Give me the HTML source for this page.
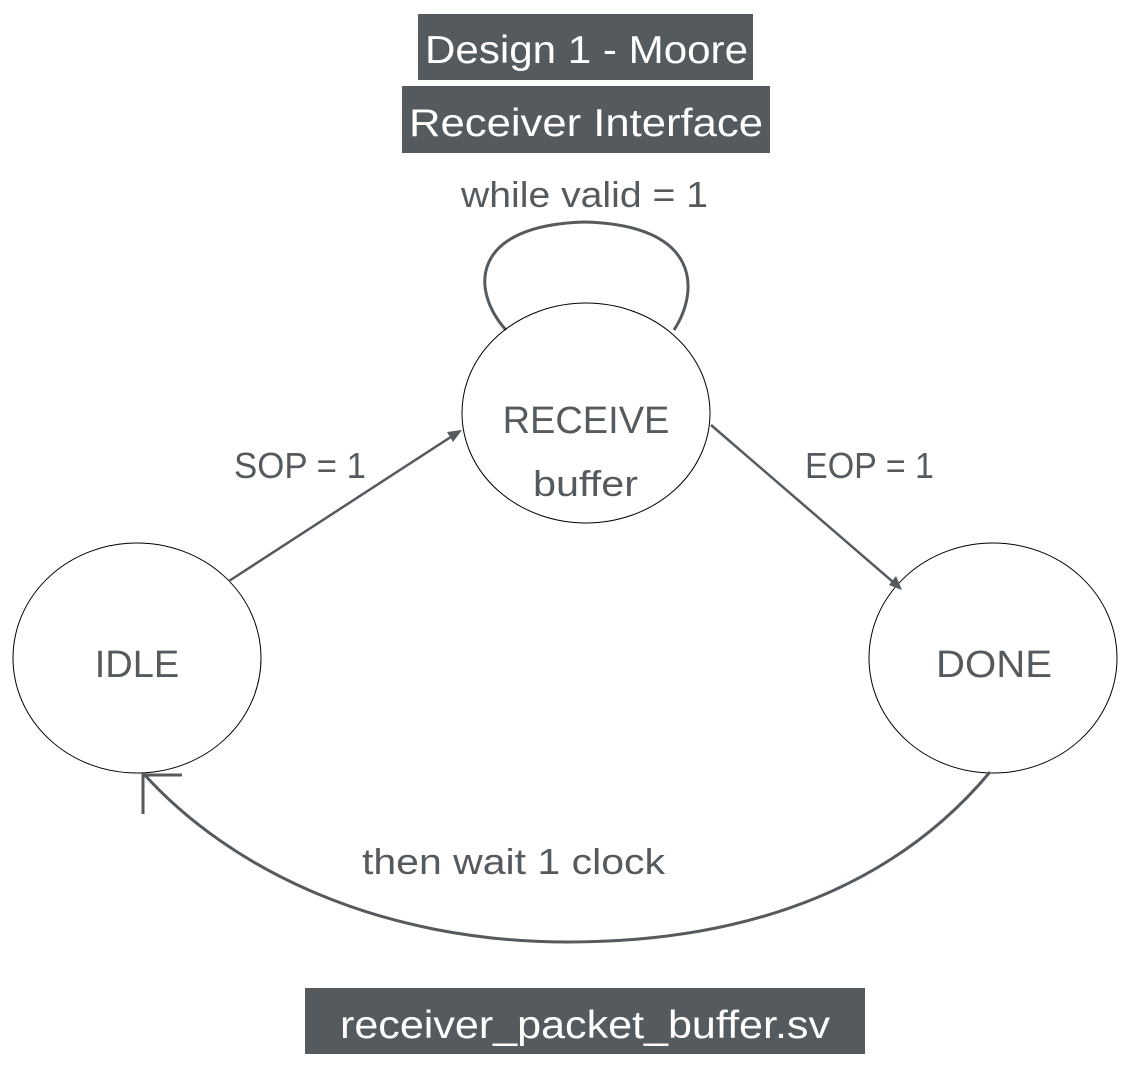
<!DOCTYPE html>
<html><head><style>
body{margin:0;background:#fff;}
svg{display:block;font-family:"Liberation Sans",sans-serif;}
</style></head><body>
<svg width="1130" height="1084" viewBox="0 0 1130 1084">
<rect x="418" y="14" width="335" height="66" fill="#555a5f"/>
<text x="425" y="63" font-size="39" fill="#fff" textLength="323" lengthAdjust="spacingAndGlyphs">Design 1 - Moore</text>
<rect x="402" y="86" width="368" height="67" fill="#555a5f"/>
<text x="409" y="136" font-size="39" fill="#fff" textLength="354" lengthAdjust="spacingAndGlyphs">Receiver Interface</text>
<text x="461" y="207" font-size="36" fill="#555a5f" textLength="247" lengthAdjust="spacingAndGlyphs">while valid = 1</text>
<path d="M506 330 C470 290,470 225,585 222 C700 225,700 290,674 330" fill="none" stroke="#555a5f" stroke-width="3"/>
<ellipse cx="586" cy="413" rx="124" ry="110" fill="none" stroke="#000" stroke-width="1"/>
<text x="586" y="433" font-size="38" fill="#555a5f" text-anchor="middle">RECEIVE</text>
<text x="533" y="496" font-size="36" fill="#555a5f" textLength="105" lengthAdjust="spacingAndGlyphs">buffer</text>
<ellipse cx="137" cy="658" rx="124" ry="115" fill="none" stroke="#000" stroke-width="1"/>
<text x="137" y="677" font-size="38" fill="#555a5f" text-anchor="middle">IDLE</text>
<ellipse cx="993" cy="658" rx="124" ry="115" fill="none" stroke="#000" stroke-width="1"/>
<text x="936" y="677" font-size="38" fill="#555a5f" textLength="116" lengthAdjust="spacingAndGlyphs">DONE</text>
<text x="234" y="478" font-size="36" fill="#555a5f" textLength="132" lengthAdjust="spacingAndGlyphs">SOP = 1</text>
<text x="805" y="478" font-size="36" fill="#555a5f" textLength="129" lengthAdjust="spacingAndGlyphs">EOP = 1</text>
<line x1="229" y1="581" x2="460" y2="431" stroke="#555a5f" stroke-width="2.5"/>
<polygon points="462,430 447,432 453,442" fill="#555a5f"/>
<line x1="711" y1="425" x2="900" y2="588" stroke="#555a5f" stroke-width="2.5"/>
<polygon points="902,590 889,585 896,576" fill="#555a5f"/>
<path d="M990 772 C900 880,760 942,568 942 C380 942,230 870,143 773" fill="none" stroke="#555a5f" stroke-width="3"/>
<path d="M182 775 L143 775 L143 814" fill="none" stroke="#555a5f" stroke-width="3"/>
<text x="362" y="874" font-size="36" fill="#555a5f" textLength="303" lengthAdjust="spacingAndGlyphs">then wait 1 clock</text>
<rect x="305" y="988" width="560" height="66" fill="#555a5f"/>
<text x="340" y="1038" font-size="39" fill="#fff" textLength="490" lengthAdjust="spacingAndGlyphs">receiver_packet_buffer.sv</text>
</svg>
</body></html>
